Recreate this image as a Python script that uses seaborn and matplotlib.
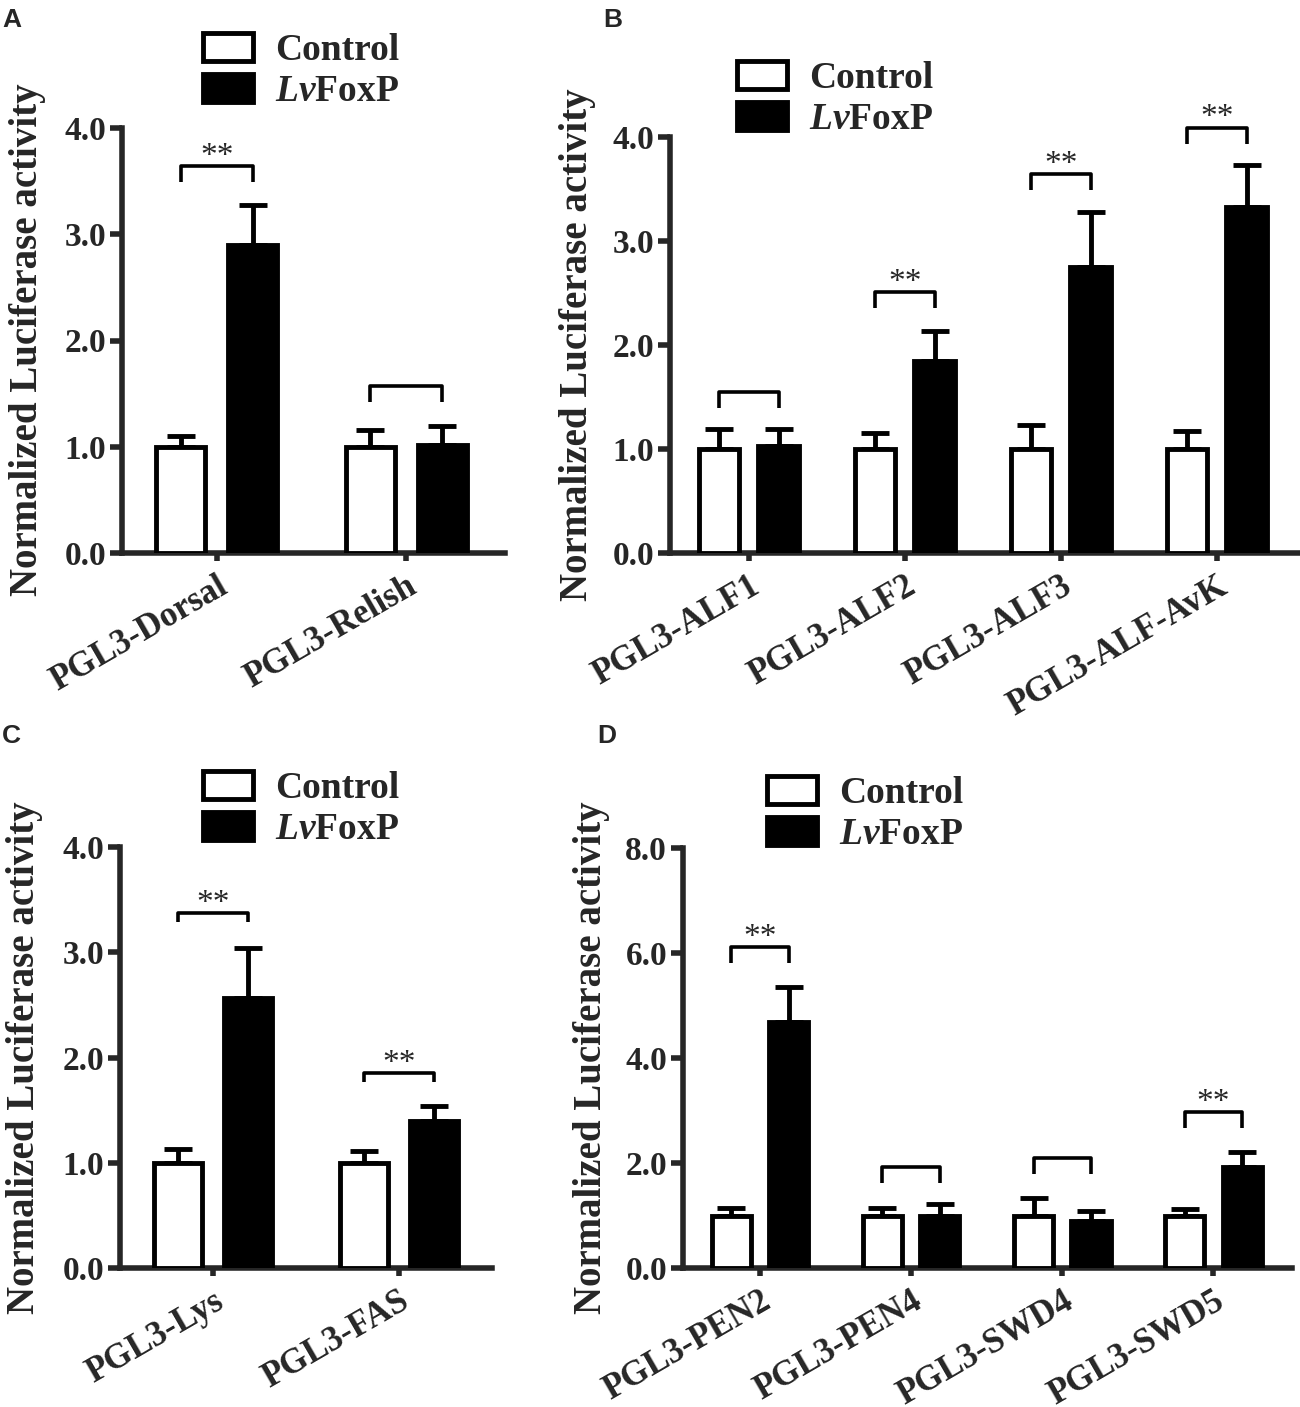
import numpy as np
import pandas as pd
import matplotlib
matplotlib.use("Agg")
import matplotlib.pyplot as plt
import seaborn as sns
from matplotlib.patches import Patch
from matplotlib.ticker import FormatStrFormatter
from matplotlib.font_manager import FontProperties

# ---------------- data ----------------
groups = ["Control", "LvFoxP"]

a_cats = ["PGL3-Dorsal", "PGL3-Relish"]
a_ctrl = [1.0, 1.0]
a_ctrl_err = [0.10, 0.16]
a_foxp = [2.90, 1.02]
a_foxp_err = [0.38, 0.18]
a_bracket = [3.64, 1.57]
a_sig = ["**", ""]

b_cats = ["PGL3-ALF1", "PGL3-ALF2", "PGL3-ALF3", "PGL3-ALF-AvK"]
b_ctrl = [1.0, 1.0, 1.0, 1.0]
b_ctrl_err = [0.19, 0.15, 0.23, 0.17]
b_foxp = [1.03, 1.85, 2.75, 3.33]
b_foxp_err = [0.16, 0.28, 0.53, 0.40]
b_bracket = [1.55, 2.51, 3.64, 4.09]
b_sig = ["", "**", "**", "**"]

c_cats = ["PGL3-Lys", "PGL3-FAS"]
c_ctrl = [1.0, 1.0]
c_ctrl_err = [0.13, 0.11]
c_foxp = [2.57, 1.40]
c_foxp_err = [0.47, 0.14]
c_bracket = [3.37, 1.85]
c_sig = ["**", "**"]

d_cats = ["PGL3-PEN2", "PGL3-PEN4", "PGL3-SWD4", "PGL3-SWD5"]
d_ctrl = [1.0, 1.0, 1.0, 1.0]
d_ctrl_err = [0.15, 0.15, 0.33, 0.13]
d_foxp = [4.68, 1.00, 0.89, 1.92]
d_foxp_err = [0.67, 0.22, 0.19, 0.29]
d_bracket = [6.11, 1.93, 2.09, 2.97]
d_sig = ["**", "", "", "**"]

ylabel = "Normalized Luciferase activity"

# ---------------- style ----------------
sns.set_theme(style="ticks")
plt.rcParams["font.family"] = ["Liberation Serif", "DejaVu Serif"]
plt.rcParams["mathtext.fontset"] = "custom"
plt.rcParams["mathtext.it"] = "Liberation Serif:italic:bold"
plt.rcParams["mathtext.rm"] = "Liberation Serif:bold"
plt.rcParams["mathtext.bf"] = "Liberation Serif:bold"

W, H = 1300, 1407
fig = plt.figure(figsize=(W / 100, H / 100), dpi=100)


def add_axes_px(left, right, top, bottom):
    return fig.add_axes([left / W, 1 - bottom / H, (right - left) / W, (bottom - top) / H])


def panel(ax, cats, ctrl, ctrl_err, foxp, foxp_err, brackets, sig, ymax, ystep,
          xlim, leg_px, axh_px):
    n = len(cats)
    df = pd.DataFrame({
        "promoter": cats * 2,
        "group": [groups[0]] * n + [groups[1]] * n,
        "value": list(ctrl) + list(foxp),
    })
    sns.barplot(data=df, x="promoter", y="value", hue="group", order=cats,
                hue_order=groups, palette={"Control": "white", "LvFoxP": "black"},
                edgecolor="black", linewidth=3.5, width=0.76, gap=0.32,
                errorbar=None, legend=False, saturation=1, ax=ax, zorder=3)
    centers = []
    for cont, errs in zip(ax.containers, [ctrl_err, foxp_err]):
        xs = [b.get_x() + b.get_width() / 2 for b in cont]
        hs = [b.get_height() for b in cont]
        centers.append(xs)
        ax.errorbar(xs, hs, yerr=[np.zeros(n), errs], fmt="none", ecolor="black",
                    elinewidth=3.5, capsize=10, capthick=3.5, zorder=2, clip_on=False)
    leg = ymax * leg_px / axh_px
    for i in range(n):
        x1, x2 = centers[0][i], centers[1][i]
        yb = brackets[i]
        ax.plot([x1, x1, x2, x2], [yb - leg, yb, yb, yb - leg], color="black",
                lw=2.6, clip_on=False, solid_capstyle="butt", zorder=4)
        if sig[i]:
            ax.annotate(sig[i], xy=((x1 + x2) / 2, yb), xytext=(0, 1),
                        textcoords="offset points", ha="center", va="baseline",
                        fontsize=24, fontweight="normal", annotation_clip=False)
    ax.set_xlim(*xlim)
    ax.set_ylim(0, ymax)
    ax.set_yticks(np.arange(0, ymax + 1e-9, ystep))
    ax.yaxis.set_major_formatter(FormatStrFormatter("%.1f"))
    ax.set_xticks(range(n))
    ax.set_xticklabels(cats, rotation=30, ha="right", rotation_mode="anchor",
                       fontweight="bold", fontsize=25)
    ax.set_xlabel("")
    ax.set_ylabel("")
    sns.despine(ax=ax)
    for s in ["left", "bottom"]:
        ax.spines[s].set_linewidth(4)
    ax.tick_params(axis="y", length=8.5, width=4, labelsize=24, pad=3)
    ax.tick_params(axis="x", length=6, width=4, pad=6)
    for lab in ax.get_yticklabels():
        lab.set_fontweight("bold")
    ax.set_facecolor("none")


def legend_at(box_left, ycenter):
    handles = [Patch(facecolor="white", edgecolor="black", linewidth=3.5),
               Patch(facecolor="black", edgecolor="black", linewidth=3.5)]
    labels = ["Control", r"$\mathit{Lv}$FoxP"]
    fig.legend(handles, labels, loc="center left",
               bbox_to_anchor=(box_left / W, 1 - ycenter / H), frameon=False,
               borderpad=0, borderaxespad=0, handlelength=1.33, handleheight=0.78,
               handletextpad=0.6, labelspacing=0.15,
               prop=FontProperties(family="Liberation Serif", weight="bold", size=27))


# Panel A
axA = add_axes_px(122, 505, 128, 553)
panel(axA, a_cats, a_ctrl, a_ctrl_err, a_foxp, a_foxp_err, a_bracket, a_sig,
      4.0, 1.0, (-0.5, 1.52), 16, 425)
# Panel B
axB = add_axes_px(670, 1298, 137, 553)
panel(axB, b_cats, b_ctrl, b_ctrl_err, b_foxp, b_foxp_err, b_bracket, b_sig,
      4.0, 1.0, (-0.506, 3.52), 16, 416)
# Panel C
axC = add_axes_px(120, 492, 847, 1268)
panel(axC, c_cats, c_ctrl, c_ctrl_err, c_foxp, c_foxp_err, c_bracket, c_sig,
      4.0, 1.0, (-0.5, 1.5), 9, 421)
# Panel D
axD = add_axes_px(683, 1292, 848, 1268)
panel(axD, d_cats, d_ctrl, d_ctrl_err, d_foxp, d_foxp_err, d_bracket, d_sig,
      8.0, 2.0, (-0.51, 3.52), 16, 420)

# legends
legend_at(203, 71)
legend_at(737, 99)
legend_at(203, 809)
legend_at(767, 814)

# y labels
for x, yc in [(28, 340), (577, 345), (25, 1058), (592, 1058)]:
    fig.text(x / W, 1 - yc / H, ylabel, rotation=90, ha="center", va="center",
             fontsize=28, fontweight="bold")

# panel letters
for x, y, s in [(2, 8, "A"), (603, 8, "B"), (2, 724, "C"), (597, 724, "D")]:
    fig.text(x / W, 1 - y / H, s, ha="left", va="top", fontsize=19,
             fontweight="bold", family=["Liberation Sans", "DejaVu Sans"])

fig.savefig("out.png", dpi=100, facecolor="white")
